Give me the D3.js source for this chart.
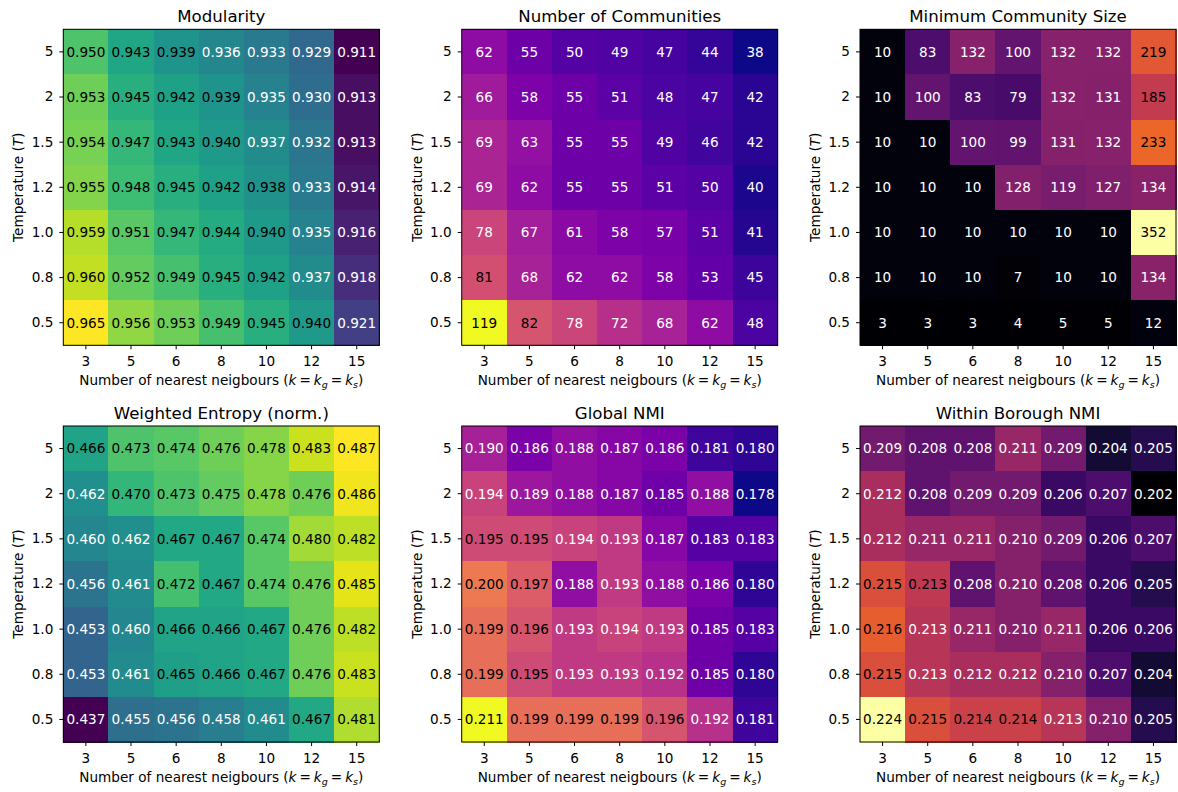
<!DOCTYPE html>
<html>
<head>
<meta charset="utf-8">
<script src="https://cdn.jsdelivr.net/npm/d3@7"></script>
<style>
  body { margin: 0; background: #fff; }
  svg { font-family: "DejaVu Sans", sans-serif; }
  .tick line { stroke: #000; }
  .tick text { fill: #000; }
</style>
</head>
<body>
<div id="chart"></div>
<script>
// Heatmap grid: temperature vs nearest neighbours

// categories
const kLabels = ['3', '5', '6', '8', '10', '12', '15']
const tLabels = ['5', '2', '1.5', '1.2', '1.0', '0.8', '0.5']

// rows go top to bottom (T = 5 ... 0.5)
const modularity = [
  [0.950, 0.943, 0.939, 0.936, 0.933, 0.929, 0.911],
  [0.953, 0.945, 0.942, 0.939, 0.935, 0.930, 0.913],
  [0.954, 0.947, 0.943, 0.940, 0.937, 0.932, 0.913],
  [0.955, 0.948, 0.945, 0.942, 0.9382, 0.933, 0.914],
  [0.959, 0.951, 0.947, 0.944, 0.940, 0.935, 0.916],
  [0.960, 0.952, 0.949, 0.945, 0.942, 0.937, 0.918],
  [0.965, 0.956, 0.953, 0.949, 0.945, 0.940, 0.921],
]

const numCommunities = [
  [62, 55, 50, 49, 47, 44, 38],
  [66, 58, 55, 51, 48, 47, 42],
  [69, 63, 55, 55, 49, 46, 42],
  [69, 62, 55, 55, 51, 50, 40],
  [78, 67, 61, 58, 57, 51, 41],
  [81, 68, 62, 62, 58, 53, 45],
  [119, 82, 78, 72, 68, 62, 48],
]

const minCommunitySize = [
  [10, 83, 132, 100, 132, 132, 219],
  [10, 100, 83, 79, 132, 131, 185],
  [10, 10, 100, 99, 131, 132, 233],
  [10, 10, 10, 128, 119, 127, 134],
  [10, 10, 10, 10, 10, 10, 352],
  [10, 10, 10, 7, 10, 10, 134],
  [3, 3, 3, 4, 5, 5, 12],
]

const weightedEntropy = [
  [0.466, 0.473, 0.474, 0.476, 0.478, 0.483, 0.487],
  [0.4618, 0.470, 0.473, 0.475, 0.478, 0.476, 0.486],
  [0.460, 0.4618, 0.467, 0.467, 0.474, 0.480, 0.482],
  [0.456, 0.461, 0.472, 0.467, 0.474, 0.476, 0.485],
  [0.453, 0.460, 0.466, 0.466, 0.467, 0.476, 0.482],
  [0.453, 0.461, 0.465, 0.466, 0.467, 0.476, 0.483],
  [0.437, 0.455, 0.456, 0.458, 0.461, 0.467, 0.481],
]

const globalNMI = [
  [0.190, 0.186, 0.188, 0.187, 0.186, 0.181, 0.180],
  [0.194, 0.189, 0.188, 0.187, 0.185, 0.188, 0.178],
  [0.195, 0.195, 0.194, 0.193, 0.187, 0.183, 0.183],
  [0.200, 0.197, 0.188, 0.193, 0.188, 0.186, 0.180],
  [0.199, 0.196, 0.193, 0.194, 0.193, 0.185, 0.183],
  [0.199, 0.195, 0.193, 0.193, 0.192, 0.185, 0.180],
  [0.211, 0.199, 0.199, 0.199, 0.196, 0.192, 0.181],
]

const boroughNMI = [
  [0.209, 0.208, 0.208, 0.211, 0.209, 0.204, 0.205],
  [0.212, 0.208, 0.209, 0.209, 0.206, 0.207, 0.202],
  [0.212, 0.211, 0.211, 0.210, 0.209, 0.206, 0.207],
  [0.215, 0.2132, 0.208, 0.210, 0.208, 0.206, 0.205],
  [0.216, 0.2128, 0.211, 0.210, 0.211, 0.206, 0.206],
  [0.215, 0.2128, 0.212, 0.212, 0.210, 0.207, 0.204],
  [0.224, 0.215, 0.214, 0.214, 0.2128, 0.210, 0.205],
]

const panels = [
  {title: 'Modularity', values: modularity, cmap: d3.interpolateViridis, fmt: '.3f'},
  {title: 'Number of Communities', values: numCommunities, cmap: d3.interpolatePlasma, fmt: 'd'},
  {title: 'Minimum Community Size', values: minCommunitySize, cmap: d3.interpolateInferno, fmt: 'd'},
  {title: 'Weighted Entropy (norm.)', values: weightedEntropy, cmap: d3.interpolateViridis, fmt: '.3f'},
  {title: 'Global NMI', values: globalNMI, cmap: d3.interpolatePlasma, fmt: '.3f'},
  {title: 'Within Borough NMI', values: boroughNMI, cmap: d3.interpolateInferno, fmt: '.3f'},
]

let layout = {
  width: 1178,
  height: 792,
  lefts: [63.3, 461.7, 860],
  tops: [29.3, 426],
  size: 316,
  font: '"DejaVu Sans", sans-serif',
}

const svg = d3.select('#chart')
  .append('svg')
  .attr('width', layout.width)
  .attr('height', layout.height)

panels.forEach((p, i) => {
  let g = svg.append('g')
    .attr('transform', `translate(${layout.lefts[i % 3]},${layout.tops[Math.floor(i / 3)]})`)

  let x = d3.scaleBand().domain(kLabels).range([0, layout.size])
  let y = d3.scaleBand().domain(tLabels).range([0, layout.size])

  let flat = p.values.flat()
  let extent = d3.extent(flat)
  let color = d3.scaleSequential(p.cmap).domain(extent)
  let mid = (extent[0] + extent[1]) / 2

  let cells = []
  p.values.forEach((row, r) => {
    row.forEach((v, c) => cells.push({t: tLabels[r], k: kLabels[c], v: v}))
  })

  g.selectAll('rect.cell')
    .data(cells)
    .enter()
    .append('rect')
    .attr('class', 'cell')
    .attr('x', (d) => x(d.k))
    .attr('y', (d) => y(d.t))
    .attr('width', x.bandwidth() + 0.5)
    .attr('height', y.bandwidth() + 0.5)
    .attr('fill', (d) => color(d.v))
    .attr('shape-rendering', 'crispEdges')

  let fmt = d3.format(p.fmt)
  g.selectAll('text.val')
    .data(cells)
    .enter()
    .append('text')
    .attr('class', 'val')
    .attr('x', (d) => x(d.k) + x.bandwidth() / 2)
    .attr('y', (d) => y(d.t) + y.bandwidth() / 2)
    .attr('dy', '0.36em')
    .attr('text-anchor', 'middle')
    .attr('font-size', 13.6)
    .attr('fill', (d) => d.v > mid ? '#000' : '#fff')
    .text((d) => fmt(d.v))

  // frame
  g.append('rect')
    .attr('width', layout.size)
    .attr('height', layout.size)
    .attr('fill', 'none')
    .attr('stroke', '#000')
    .attr('stroke-width', 1)

  g.append('g')
    .attr('transform', `translate(0,${layout.size})`)
    .call(d3.axisBottom(x).tickSize(4).tickPadding(7))
    .attr('font-size', 13.6)
    .attr('font-family', layout.font)
    .call((a) => a.select('.domain').remove())

  g.append('g')
    .call(d3.axisLeft(y).tickSize(4).tickPadding(6))
    .attr('font-size', 13.6)
    .attr('font-family', layout.font)
    .call((a) => a.select('.domain').remove())

  g.append('text')
    .attr('x', layout.size / 2)
    .attr('y', -7.3)
    .attr('text-anchor', 'middle')
    .attr('font-size', 16.6)
    .text(p.title)

  // x label with math bits
  let xl = g.append('text')
    .attr('x', layout.size / 2)
    .attr('y', layout.size + 40)
    .attr('text-anchor', 'middle')
    .attr('font-size', 13.6)
  xl.append('tspan').text('Number of nearest neigbours (')
  xl.append('tspan').attr('font-style', 'italic').text('k')
  xl.append('tspan').attr('dx', 3).text('=')
  xl.append('tspan').attr('dx', 3).attr('font-style', 'italic').text('k')
  xl.append('tspan').attr('font-style', 'italic').attr('font-size', 9.5).attr('dy', 3).text('g')
  xl.append('tspan').attr('dx', 3).attr('dy', -3).text('=')
  xl.append('tspan').attr('dx', 3).attr('font-style', 'italic').text('k')
  xl.append('tspan').attr('font-style', 'italic').attr('font-size', 9.5).attr('dy', 3).text('s')
  xl.append('tspan').attr('dy', -3).text(')')

  let yl = g.append('text')
    .attr('transform', `translate(-45,${layout.size / 2}) rotate(-90)`)
    .attr('dy', '0.36em')
    .attr('text-anchor', 'middle')
    .attr('font-size', 13.6)
  yl.append('tspan').text('Temperature (')
  yl.append('tspan').attr('font-style', 'italic').text('T')
  yl.append('tspan').text(')')
})
</script>
</body>
</html>
